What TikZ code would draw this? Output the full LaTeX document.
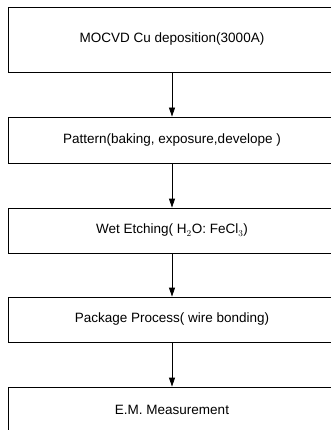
\documentclass[tikz,border=0pt]{standalone}
\usepackage{fontspec}
\setmainfont{Liberation Sans}
\usetikzlibrary{arrows.meta}
\begin{document}
\begin{tikzpicture}[x=1pt,y=1pt,
  stepbox/.style={draw=black,line width=0.8pt,rectangle,minimum width=328pt,
    inner sep=0pt,font=\fontsize{13.5}{16}\selectfont},
  flow/.style={draw=black,line width=0.8pt,-{Triangle[length=9pt,width=6pt]}}]
\useasboundingbox (0,0) rectangle (331,-430);
\clip (0,0) rectangle (331,-430);
\fill[white] (0,0) rectangle (331,-430);
\node[stepbox,minimum height=65pt] (b1) at (172,-39.5) {MOCVD Cu deposition(3000A)};
\node[stepbox,minimum height=46pt] (b2) at (172,-140) {Pattern(baking, exposure,develope )};
\node[stepbox,minimum height=45pt] (b3) at (172,-230.5) {Wet Etching( H$_2$O: FeCl$_3$)};
\node[stepbox,minimum height=45pt] (b4) at (172,-319.5) {Package Process( wire bonding)};
\node[stepbox,minimum height=45pt] (b5) at (172,-409.5) {E.M. Measurement};
\draw[flow] (b1.south) -- (b2.north);
\draw[flow] (b2.south) -- (b3.north);
\draw[flow] (b3.south) -- (b4.north);
\draw[flow] (b4.south) -- (b5.north);
\end{tikzpicture}
\end{document}
